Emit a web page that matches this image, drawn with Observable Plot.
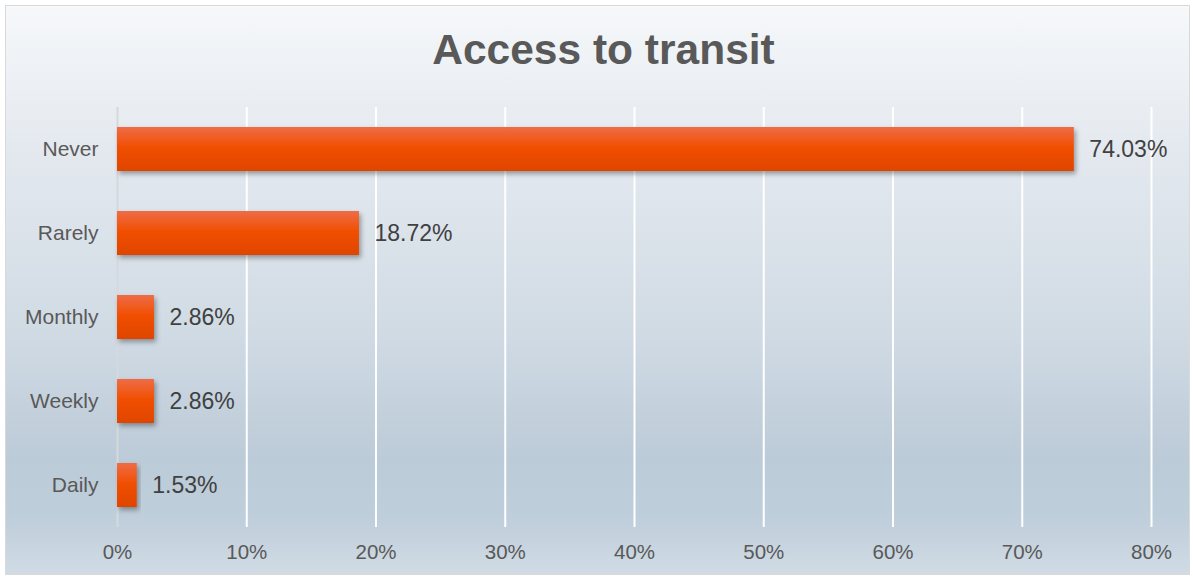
<!DOCTYPE html>
<html>
<head>
<meta charset="utf-8">
<script src="https://cdn.jsdelivr.net/npm/d3@7"></script>
<script src="https://cdn.jsdelivr.net/npm/@observablehq/plot@0.6"></script>
<style>
  html, body { margin: 0; padding: 0; background: #ffffff; }
  #page { position: relative; width: 1193px; height: 578px; overflow: hidden; font-family: "Liberation Sans", Arial, sans-serif; }
  #frame { position: absolute; left: 5px; top: 5px; width: 1185px; height: 570px; box-sizing: border-box;
    border: 1px solid #d9d9d9;
    background: linear-gradient(to bottom, #f6f8fa 0%, #e4e9ef 25%, #d2dce5 55%, #bccbd8 80%, #bfcedb 90%, #d0dbe4 100%); }
  #title { position: absolute; left: 7px; top: 26px; width: 1193px; text-align: center; font-size: 42.5px; font-weight: bold; color: #595959; line-height: 48px; }
  #chart { position: absolute; left: 0; top: 85px; }
</style>
</head>
<body>
<div id="page">
  <div id="frame"></div>
  <div id="title">Access to transit</div>
  <div id="chart"></div>
</div>
<script>
const categories = ["Never", "Rarely", "Monthly", "Weekly", "Daily"];
const values = [74.03, 18.72, 2.86, 2.86, 1.53];
const labels = ["74.03%", "18.72%", "2.86%", "2.86%", "1.53%"];
const xTicks = [0, 10, 20, 30, 40, 50, 60, 70, 80];
const xTickLabels = ["0%", "10%", "20%", "30%", "40%", "50%", "60%", "70%", "80%"];

const data = categories.map((c, i) => ({category: c, value: values[i], label: labels[i]}));

const plot = Plot.plot({
  width: 1193,
  height: 487,
  marginLeft: 117,
  marginRight: 42,
  marginTop: 22,
  marginBottom: 45,
  style: {background: "transparent", fontFamily: "\"Liberation Sans\", Arial, sans-serif", color: "#595959", overflow: "visible"},
  x: {domain: [0, 80], label: null},
  y: {domain: categories, paddingInner: 0.48, paddingOuter: 0.24, label: null},
  marks: [
    Plot.ruleX(xTicks.filter(d => d > 0), {stroke: "#ffffff", strokeWidth: 2, strokeOpacity: 1}),
    Plot.ruleX([0], {stroke: "#d4d9de", strokeWidth: 2}),
    Plot.barX(data, {y: "category", x: "value", fill: "url(#barGrad)", className: "bars"}),
    Plot.text(data, {y: "category", x: "value", text: "label", textAnchor: "start", dx: 15, fontSize: 23, fill: "#404040"}),
    Plot.axisX({ticks: xTicks, tickFormat: (d) => xTickLabels[xTicks.indexOf(d)], tickSize: 0, tickPadding: 17, fontSize: 20.5, fill: "#595959", label: null}),
    Plot.axisY({tickSize: 0, tickPadding: 19, fontSize: 21, fill: "#595959", label: null})
  ]
});

const svg = d3.select(plot);
const defs = svg.insert("defs", ":first-child");
const g = defs.append("linearGradient").attr("id", "barGrad").attr("x1", 0).attr("y1", 0).attr("x2", 0).attr("y2", 1);
g.append("stop").attr("offset", "0%").attr("stop-color", "#ee6c46");
g.append("stop").attr("offset", "45%").attr("stop-color", "#f15004");
g.append("stop").attr("offset", "100%").attr("stop-color", "#df4500");
const f = defs.append("filter").attr("id", "shadow").attr("x", "-10%").attr("y", "-20%").attr("width", "130%").attr("height", "160%");
f.append("feDropShadow").attr("dx", 2).attr("dy", 3).attr("stdDeviation", 2.5).attr("flood-color", "#000000").attr("flood-opacity", 0.35);
svg.selectAll(".bars rect").attr("filter", "url(#shadow)");

document.getElementById("chart").appendChild(plot);
</script>
</body>
</html>
